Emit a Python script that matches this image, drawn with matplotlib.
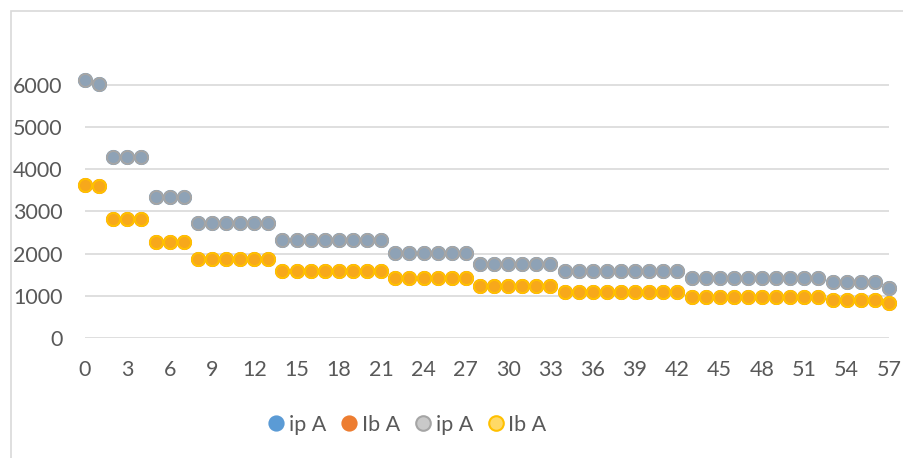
import matplotlib
matplotlib.use("Agg")
import matplotlib.pyplot as plt
from matplotlib.lines import Line2D
from matplotlib.patches import Rectangle

# Series values (A), index 0..57
ip_a = [6125, 6030, 4295, 4295, 4295, 3344, 3344, 3344,
        2734, 2734, 2734, 2734, 2734, 2734,
        2322, 2322, 2322, 2322, 2322, 2322, 2322, 2322,
        2006, 2006, 2006, 2006, 2006, 2006,
        1752, 1752, 1752, 1752, 1752, 1752,
        1585, 1585, 1585, 1585, 1585, 1585, 1585, 1585, 1585,
        1426, 1426, 1426, 1426, 1426, 1426, 1426, 1426, 1426, 1426,
        1317, 1317, 1317, 1317, 1188]
ib_a = [3630, 3606, 2814, 2814, 2814, 2282, 2282, 2282,
        1871, 1871, 1871, 1871, 1871, 1871,
        1597, 1597, 1597, 1597, 1597, 1597, 1597, 1597,
        1412, 1412, 1412, 1412, 1412, 1412,
        1229, 1229, 1229, 1229, 1229, 1229,
        1093, 1093, 1093, 1093, 1093, 1093, 1093, 1093, 1093,
        975, 975, 975, 975, 975, 975, 975, 975, 975, 975,
        896, 896, 896, 896, 832]
idx = list(range(len(ip_a)))
x_ticks = list(range(0, 58, 3))
y_ticks = [0, 1000, 2000, 3000, 4000, 5000, 6000]
legend_labels = ["ip A", "Ib A", "ip A", "Ib A"]

plt.rcParams["font.family"] = ["Lato", "DejaVu Sans"]

fig = plt.figure(figsize=(9.04, 4.58), dpi=100)
ax = fig.add_axes([85 / 904, 1 - 337.7 / 458, 804 / 904, 294.5 / 458])

ms, mew = 9.4, 1.45
common = dict(ls="none", marker="o", ms=ms, mew=mew, clip_on=False)
# first pair of series (hidden underneath)
ax.plot(idx, ip_a, mfc="#5B9BD5", mec="#5B9BD5", zorder=2, **common)
ax.plot(idx, ib_a, mfc="#ED7D31", mec="#ED7D31", zorder=2, **common)
# second pair on top
ax.plot(idx, ip_a, mfc="#8EA2B6", mec="#A5A5A5", zorder=3, **common)
ax.plot(idx, ib_a, mfc="#F7A81B", mec="#FFC000", zorder=3, **common)

ax.set_xlim(0, 57)
ax.set_ylim(0, 7000)
ax.set_xticks(x_ticks)
ax.set_yticks(y_ticks)
ax.grid(axis="y", color="#D9D9D9", lw=1.2, zorder=0)
ax.set_axisbelow(True)
for s in ax.spines.values():
    s.set_visible(False)
ax.tick_params(axis="both", length=0, labelcolor="#595959", labelsize=15.5)
ax.tick_params(axis="y", pad=16)
ax.tick_params(axis="x", pad=16)

handles = [
    Line2D([], [], ls="none", marker="o", ms=10.5, mfc="#5B9BD5", mec="#5B9BD5", mew=1.2),
    Line2D([], [], ls="none", marker="o", ms=10.5, mfc="#ED7D31", mec="#ED7D31", mew=1.2),
    Line2D([], [], ls="none", marker="o", ms=10.5, mfc="#C9C9C9", mec="#A5A5A5", mew=1.5),
    Line2D([], [], ls="none", marker="o", ms=10.5, mfc="#FFD966", mec="#FFC000", mew=1.5),
]
fig.legend(handles, legend_labels, loc="center", bbox_to_anchor=(405 / 904, 1 - 425 / 458),
           ncol=4, frameon=False, fontsize=15.5, handletextpad=0.0, columnspacing=0.45,
           handlelength=1.2, labelcolor="#595959")

# chart frame
fig.patches.append(Rectangle((10.5 / 904, -0.05), 1.1, 1 - 11 / 458 + 0.05,
                             transform=fig.transFigure, fill=False,
                             ec="#D9D9D9", lw=1.2))

fig.savefig("out.png", dpi=100)
